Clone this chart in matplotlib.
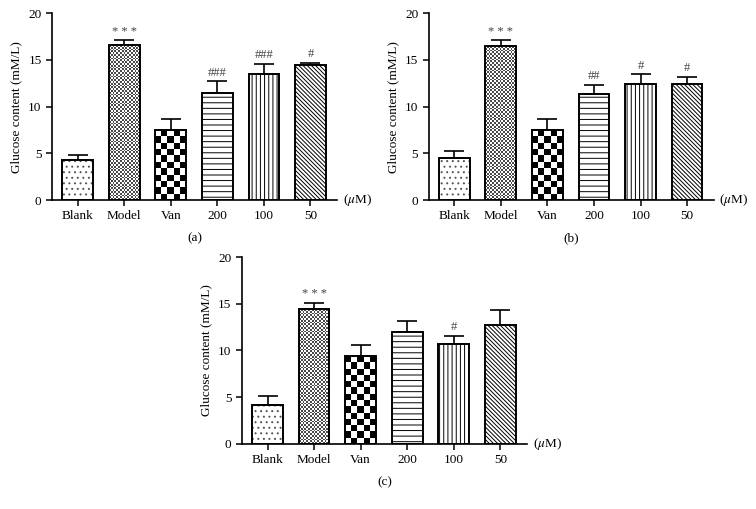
import numpy as np
import matplotlib.pyplot as plt
from matplotlib.colors import ListedColormap

plt.rcParams["font.family"] = ["Liberation Serif", "DejaVu Serif"]
plt.rcParams["hatch.linewidth"] = 0.7
plt.rcParams["mathtext.fontset"] = "stix"

groups = ["Blank", "Model", "Van", "200", "100", "50"]

means_a = [4.3, 16.55, 7.45, 11.5, 13.5, 14.45]
errs_a = [0.5, 0.55, 1.25, 1.2, 1.05, 0.25]
marks_a = ["", "* * *", "", "###", "###", "#"]

means_b = [4.45, 16.45, 7.45, 11.3, 12.45, 12.4]
errs_b = [0.8, 0.65, 1.25, 1.05, 1.0, 0.8]
marks_b = ["", "* * *", "", "##", "#", "#"]

means_c = [4.17, 14.4, 9.4, 12.0, 10.66, 12.75]
errs_c = [0.93, 0.7, 1.2, 1.2, 0.88, 1.57]
marks_c = ["", "* * *", "", "", "#", ""]

# fill style per group: ("hatch", pattern, colour) or ("checker", cell px, colour)
fills = [
    ("hatch", "...", "#555555"),
    ("checker", 1.8, "#4a4a4a"),
    ("checker", 6.2, "black"),
    ("hatch", "---", "black"),
    ("hatch", "||||", "black"),
    ("hatch", "\\" * 8, "black"),
]


def checker(ax, rect, cell_px, dark):
    x0, y0 = rect.get_x(), rect.get_y()
    w, h = rect.get_width(), rect.get_height()
    (px0, py0), (px1, py1) = ax.transData.transform([(x0, y0), (x0 + w, y0 + h)])
    nx = max(1, int(round((px1 - px0) / cell_px)))
    ny = max(1, int(round((py1 - py0) / cell_px)))
    grid = np.add.outer(np.arange(ny), np.arange(nx)) % 2
    im = ax.imshow(grid, cmap=ListedColormap(["white", dark]),
                   extent=(x0, x0 + w, y0, y0 + h), origin="lower",
                   interpolation="nearest", aspect="auto", zorder=2.1)
    im.set_clip_path(rect)


def panel(ax, means, errs, marks, tag):
    x = np.arange(len(groups))
    ax.set_xlim(-0.55, 5.57)
    ax.set_ylim(0, 20)
    width = 0.66
    ax.errorbar(x, means, yerr=[np.zeros(len(errs)), errs], fmt="none",
                ecolor="black", elinewidth=1.2, capsize=7.5, capthick=1.2, zorder=1.5)
    bars = ax.bar(x, means, width, color="white", edgecolor="none", zorder=2)
    for rect, (kind, arg, col) in zip(bars, fills):
        if kind == "hatch":
            ax.bar(rect.get_x() + width / 2, rect.get_height(), width,
                   color="white", edgecolor=col, linewidth=0, hatch=arg, zorder=2.1)
        else:
            checker(ax, rect, arg, col)
    ax.bar(x, means, width, fill=False, edgecolor="black", linewidth=1.4, zorder=3)

    for xi, m, e, s in zip(x, means, errs, marks):
        if s:
            ax.text(xi, m + e + 0.3, s, ha="center", va="bottom",
                    fontsize=9, color="#444444")

    ax.set_xticks(x)
    ax.set_xticklabels(groups, fontsize=9.5)
    ax.set_yticks([0, 5, 10, 15, 20])
    ax.tick_params(axis="y", labelsize=9.5, length=4, width=1.1, direction="out")
    ax.tick_params(axis="x", length=4, width=1.1, direction="out")
    for side in ("top", "right"):
        ax.spines[side].set_visible(False)
    for side in ("left", "bottom"):
        ax.spines[side].set_linewidth(1.2)
    ax.set_ylabel("Glucose content (mM/L)", fontsize=9.5, labelpad=4)
    ax.text(1.02, 0, r"($\mu$M)", transform=ax.transAxes, ha="left",
            va="center", fontsize=9.5)
    ax.text(0.5, -0.175, tag, transform=ax.transAxes, ha="center",
            va="top", fontsize=9.5)


fig = plt.figure(figsize=(7.56, 5.09), dpi=100)
ax_a = fig.add_axes([0.0688, 0.607, 0.377, 0.367])
ax_b = fig.add_axes([0.567, 0.607, 0.377, 0.367])
ax_c = fig.add_axes([0.320, 0.128, 0.377, 0.367])

panel(ax_a, means_a, errs_a, marks_a, "(a)")
panel(ax_b, means_b, errs_b, marks_b, "(b)")
panel(ax_c, means_c, errs_c, marks_c, "(c)")

fig.savefig("out.png", dpi=100)
